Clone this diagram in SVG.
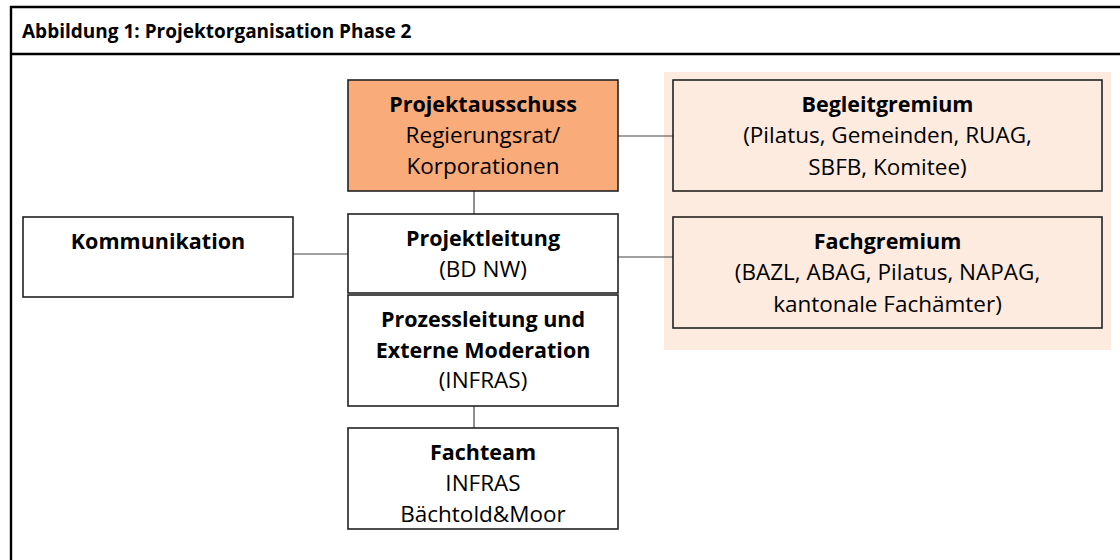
<svg xmlns="http://www.w3.org/2000/svg" width="1120" height="560" viewBox="0 0 1120 560">
<style>
.frame{stroke:#000;stroke-width:2.4;fill:none}
.box{stroke:#222;stroke-width:1.6}
.conn{stroke:#444;stroke-width:1.2;fill:none}
text{font-family:"Open Sans",Lato,"Liberation Sans",sans-serif;font-size:22.5px;fill:#000;text-anchor:middle}
.b{font-weight:bold;font-size:21.5px}
.title{font-size:19px;text-anchor:start;font-weight:bold}
</style>
<rect width="1120" height="560" fill="#fff"/>
<g id="frame">
<path class="frame" d="M11,7 H1122 M11,54 H1122 M11,5.8 V562"/>
<text class="title" x="22" y="38">Abbildung 1: Projektorganisation Phase 2</text>
</g>
<rect id="gremien-bg" x="664" y="72" width="447" height="278" fill="#FDEBDF"/>
<g id="connectors">
<line class="conn" x1="474" y1="191" x2="474" y2="214"/>
<line class="conn" x1="618" y1="136" x2="673" y2="136"/>
<line class="conn" x1="618" y1="257" x2="673" y2="257"/>
<line class="conn" x1="293" y1="254" x2="348" y2="254"/>
<line class="conn" x1="474" y1="406" x2="474" y2="428"/>
</g>
<g id="projektausschuss">
<rect class="box" x="348" y="80" width="270" height="111" fill="#F9AB7A"/>
<text class="b" x="483" y="112">Projektausschuss</text>
<text x="483" y="143">Regierungsrat/</text>
<text x="483" y="174">Korporationen</text>
</g>
<g id="projektleitung">
<rect class="box" x="348" y="214" width="270" height="79" fill="#fff"/>
<text class="b" x="483" y="246">Projektleitung</text>
<text x="483" y="277">(BD NW)</text>
</g>
<g id="prozessleitung">
<rect class="box" x="348" y="295" width="270" height="111" fill="#fff"/>
<text class="b" x="483" y="327">Prozessleitung und</text>
<text class="b" x="483" y="358">Externe Moderation</text>
<text x="483" y="388">(INFRAS)</text>
</g>
<g id="fachteam">
<rect class="box" x="348" y="428" width="270" height="101" fill="#fff"/>
<text class="b" x="483" y="460">Fachteam</text>
<text x="483" y="491">INFRAS</text>
<text x="483" y="522">Bächtold&amp;Moor</text>
</g>
<g id="kommunikation">
<rect class="box" x="23" y="217" width="270" height="80" fill="#fff"/>
<text class="b" x="158" y="249">Kommunikation</text>
</g>
<g id="begleitgremium">
<rect class="box" x="673" y="80" width="429" height="111" fill="#FDEBDF"/>
<text class="b" x="887.5" y="112">Begleitgremium</text>
<text x="887.5" y="143">(Pilatus, Gemeinden, RUAG,</text>
<text x="887.5" y="175">SBFB, Komitee)</text>
</g>
<g id="fachgremium">
<rect class="box" x="673" y="217" width="429" height="111" fill="#FDEBDF"/>
<text class="b" x="887.5" y="249">Fachgremium</text>
<text x="887.5" y="280">(BAZL, ABAG, Pilatus, NAPAG,</text>
<text x="887.5" y="312">kantonale Fachämter)</text>
</g>
</svg>
